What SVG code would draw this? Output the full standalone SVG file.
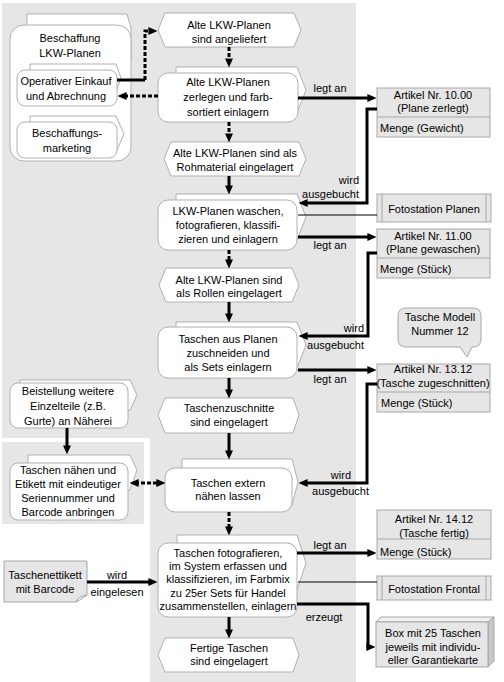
<svg xmlns="http://www.w3.org/2000/svg" width="504" height="682" viewBox="0 0 504 682">
<style>
text{font-family:"Liberation Sans",Arial,sans-serif;font-size:11px;fill:#000}
.c{text-anchor:middle}
.e{text-anchor:end}
.n{fill:#fff;stroke:#b0b0b0;stroke-width:1}
.g{fill:#e6e6e6;stroke:#a8a8a8;stroke-width:1}
.th{fill:none;stroke:#000;stroke-width:3}
.da{fill:none;stroke:#000;stroke-width:3;stroke-dasharray:4 2}
.tn{fill:none;stroke:#000;stroke-width:1}
</style>
<defs>
<marker id="ah" viewBox="0 0 9 9" markerWidth="9" markerHeight="9" refX="3.6" refY="4.5" orient="auto-start-reverse" markerUnits="userSpaceOnUse">
<path d="M0,0.5 L9,4.5 L0,8.5 z" fill="#000"/>
</marker>
</defs>
<!-- background areas -->
<path d="M2,3 H356 V682 H150 V438 H2 Z" fill="#e6e6e6"/>
<rect x="2" y="442" width="142" height="82" fill="#e6e6e6"/>

<!-- left nodes -->
<g id="beschaffung">
<polygon class="n" points="27,14 127,14 131,28 131,60 27,60"/>
<rect class="n" x="10" y="25" width="121" height="136" rx="14"/>
<text class="c" x="70" y="42">Beschaffung</text>
<text class="c" x="70" y="57">LKW-Planen</text>
</g>
<g id="operativ">
<polygon class="n" points="30,64 116,64 121,78 116,92 30,92"/>
<rect class="n" x="17" y="70" width="100" height="36" rx="8"/>
<text class="c" x="66" y="85">Operativer Einkauf</text>
<text class="c" x="66" y="100">und Abrechnung</text>
</g>
<g id="marketing">
<polygon class="n" points="30,116 116,116 124,134 116,152 30,152"/>
<rect class="n" x="17" y="122" width="100" height="36" rx="8"/>
<text class="c" x="67" y="137">Beschaffungs-</text>
<text class="c" x="67" y="152">marketing</text>
</g>
<g id="beistellung">
<polygon class="n" points="20,380 130,380 137,395 130,410 20,410"/>
<rect class="n" x="10" y="383" width="118" height="45" rx="8"/>
<text class="c" x="68" y="395">Beistellung weitere</text>
<text class="c" x="68" y="410">Einzelteile (z.B.</text>
<text class="c" x="68" y="425">Gurte) an Näherei</text>
</g>
<g id="naehen">
<polygon class="n" points="28,455 130,455 137,470 130,490 28,490"/>
<rect class="n" x="10" y="463" width="118" height="57" rx="8"/>
<text class="c" x="68" y="474">Taschen nähen und</text>
<text class="c" x="68" y="488">Etikett mit eindeutiger</text>
<text class="c" x="68" y="502">Seriennummer und</text>
<text class="c" x="68" y="516">Barcode anbringen</text>
</g>
<g id="etikett">
<path class="g" d="M4,561 H87 V595 Q80,596 76,602 H4 Z"/>
<path d="M76,602 Q77,597 87,595 Q81,600 76,602 Z" fill="#f4f4f4" stroke="#a8a8a8"/>
<text class="c" x="45" y="579">Taschenettikett</text>
<text class="c" x="45" y="593">mit Barcode</text>
</g>

<!-- main column -->
<g id="e1">
<polygon class="n" points="158,30 165,13 294,13 301,30 294,47 165,47"/>
<text class="c" x="229" y="29">Alte LKW-Planen</text>
<text class="c" x="229" y="43">sind angeliefert</text>
</g>
<g id="f1">
<polygon class="n" points="176,67 297,67 306,90 297,113 176,113"/>
<rect class="n" x="158" y="73" width="140" height="49" rx="10"/>
<text class="c" x="228" y="86">Alte LKW-Planen</text>
<text class="c" x="228" y="101">zerlegen und farb-</text>
<text class="c" x="228" y="116">sortiert einlagern</text>
</g>
<g id="e2">
<polygon class="n" points="164,159 171,142 299,142 306,159 299,176 171,176"/>
<text class="c" x="235" y="157">Alte LKW-Planen sind als</text>
<text class="c" x="235" y="171">Rohmaterial eingelagert</text>
</g>
<g id="f2">
<polygon class="n" points="176,194 297,194 306,217 297,240 176,240"/>
<rect class="n" x="158" y="200" width="139" height="50" rx="10"/>
<text class="c" x="228" y="215">LKW-Planen waschen,</text>
<text class="c" x="228" y="229">fotografieren, klassifi-</text>
<text class="c" x="228" y="243">zieren und einlagern</text>
</g>
<g id="e3">
<polygon class="n" points="159,285 166,268 292,268 299,285 292,302 166,302"/>
<text class="c" x="229" y="284">Alte LKW-Planen sind</text>
<text class="c" x="229" y="297">als Rollen eingelagert</text>
</g>
<g id="f3">
<polygon class="n" points="176,322 297,322 306,345 297,368 176,368"/>
<rect class="n" x="158" y="327" width="139" height="51" rx="10"/>
<text class="c" x="228" y="343">Taschen aus Planen</text>
<text class="c" x="228" y="357">zuschneiden und</text>
<text class="c" x="228" y="371">als Sets einlagern</text>
</g>
<g id="e4">
<polygon class="n" points="158,415 165,398 293,398 299,415 293,433 165,433"/>
<text class="c" x="229" y="412">Taschenzuschnitte</text>
<text class="c" x="229" y="426">sind eingelagert</text>
</g>
<g id="f4">
<polygon class="n" points="182,459 292,459 298,482 292,505 182,505"/>
<rect class="n" x="165" y="468" width="127" height="44" rx="10"/>
<text class="c" x="228" y="487">Taschen extern</text>
<text class="c" x="228" y="500">nähen lassen</text>
</g>
<g id="f5">
<polygon class="n" points="177,535 297,535 306,563 297,590 177,590"/>
<rect class="n" x="158" y="543" width="139" height="74" rx="10"/>
<text class="c" x="228" y="557">Taschen fotografieren,</text>
<text class="c" x="228" y="570">im System erfassen und</text>
<text class="c" x="228" y="583">klassifizieren, im Farbmix</text>
<text class="c" x="228" y="597">zu 25er Sets für Handel</text>
<text class="c" x="228" y="610">zusammenstellen, einlagern</text>
</g>
<g id="e5">
<polygon class="n" points="158,655 165,638 293,638 299,655 293,672 165,672"/>
<text class="c" x="229" y="652">Fertige Taschen</text>
<text class="c" x="229" y="665">sind eingelagert</text>
</g>

<!-- right column -->
<g id="art10">
<rect class="g" x="377" y="88" width="113" height="49"/>
<line x1="377" y1="117" x2="490" y2="117" stroke="#a8a8a8"/>
<text class="c" x="433" y="99">Artikel Nr. 10.00</text>
<text class="c" x="433" y="112">(Plane zerlegt)</text>
<text x="380" y="132">Menge (Gewicht)</text>
</g>
<g id="foto1">
<rect class="g" x="377" y="194" width="114" height="28"/>
<line x1="382" y1="194" x2="382" y2="222" stroke="#a8a8a8"/>
<line x1="486" y1="194" x2="486" y2="222" stroke="#a8a8a8"/>
<text class="c" x="434" y="213">Fotostation Planen</text>
</g>
<g id="art11">
<rect class="g" x="377" y="229" width="113" height="49"/>
<line x1="377" y1="258" x2="490" y2="258" stroke="#a8a8a8"/>
<text class="c" x="433" y="240">Artikel Nr. 11.00</text>
<text class="c" x="433" y="253">(Plane gewaschen)</text>
<text x="380" y="273">Menge (Stück)</text>
</g>
<g id="callout">
<path class="g" d="M406,308 H473 Q481,308 481,316 V339 Q481,347 473,347 H472 L467,357 L460,347 H406 Q398,347 398,339 V316 Q398,308 406,308 Z"/>
<text class="c" x="440" y="321">Tasche Modell</text>
<text class="c" x="440" y="335">Nummer 12</text>
</g>
<g id="art13">
<rect class="g" x="377" y="364" width="113" height="48"/>
<line x1="377" y1="392" x2="490" y2="392" stroke="#a8a8a8"/>
<text class="c" x="433" y="373">Artikel Nr. 13.12</text>
<text class="c" x="433" y="387">(Tasche zugeschnitten)</text>
<text x="381" y="407">Menge (Stück)</text>
</g>
<g id="art14">
<rect class="g" x="377" y="510" width="114" height="49"/>
<line x1="377" y1="539" x2="491" y2="539" stroke="#a8a8a8"/>
<text class="c" x="434" y="523">Artikel Nr. 14.12</text>
<text class="c" x="434" y="537">(Tasche fertig)</text>
<text x="380" y="556">Menge (Stück)</text>
</g>
<g id="foto2">
<rect class="g" x="377" y="576" width="114" height="24"/>
<line x1="382" y1="576" x2="382" y2="600" stroke="#a8a8a8"/>
<line x1="486" y1="576" x2="486" y2="600" stroke="#a8a8a8"/>
<text class="c" x="434" y="593">Fotostation Frontal</text>
</g>
<g id="box">
<polygon points="376,622 381,617 494,617 488,622" fill="#f0f0f0" stroke="#a8a8a8"/>
<polygon points="488,622 494,617 494,661 488,667" fill="#c8c8c8" stroke="#a8a8a8"/>
<rect class="g" x="376" y="622" width="112" height="45"/>
<text class="c" x="433" y="637">Box mit 25 Taschen</text>
<text class="c" x="433" y="651">jeweils mit individu-</text>
<text class="c" x="433" y="664">eller Garantiekarte</text>
</g>

<!-- connectors -->
<g id="connectors">
<path class="th" d="M117,80 H145"/>
<path class="da" d="M145,80 V31 H152" marker-end="url(#ah)"/>
<path class="da" d="M158,96 H123" marker-end="url(#ah)"/>
<path class="da" d="M229,47 V62" marker-end="url(#ah)"/>
<path class="da" d="M229,122 V137" marker-end="url(#ah)"/>
<path class="th" d="M229,176 V189" marker-end="url(#ah)"/>
<path class="da" d="M229,250 V263" marker-end="url(#ah)"/>
<path class="th" d="M229,302 V317" marker-end="url(#ah)"/>
<path class="th" d="M229,378 V393" marker-end="url(#ah)"/>
<path class="th" d="M229,433 V454" marker-end="url(#ah)"/>
<path class="da" d="M229,512 V530" marker-end="url(#ah)"/>
<path class="th" d="M229,617 V633" marker-end="url(#ah)"/>
<path class="th" d="M298,98 H371" marker-end="url(#ah)"/>
<path class="th" d="M377,109 H367 V203 H304" marker-end="url(#ah)"/>
<path class="tn" d="M298,215 H377"/>
<path class="th" d="M298,237 H371" marker-end="url(#ah)"/>
<path class="th" d="M377,253 H368 V336 H304" marker-end="url(#ah)"/>
<path class="th" d="M298,370 H371" marker-end="url(#ah)"/>
<path class="th" d="M377,384 H367 V483 H304" marker-end="url(#ah)"/>
<path class="da" d="M135,483 H160" marker-start="url(#ah)" marker-end="url(#ah)"/>
<path class="th" d="M67,428 V449" marker-end="url(#ah)"/>
<path class="th" d="M87,582 H152" marker-end="url(#ah)"/>
<path class="th" d="M297,553 H371" marker-end="url(#ah)"/>
<path class="tn" d="M298,582 H377"/>
<path class="th" d="M297,604 H368 V647 H370" marker-end="url(#ah)"/>
<text class="c" x="330" y="92">legt an</text>
<text class="e" x="359" y="184">wird</text>
<text class="e" x="359" y="198">ausgebucht</text>
<text class="c" x="330" y="249">legt an</text>
<text class="e" x="364" y="332">wird</text>
<text class="e" x="364" y="349">ausgebucht</text>
<text class="c" x="330" y="383">legt an</text>
<text class="e" x="351" y="479">wird</text>
<text class="e" x="369" y="495">ausgebucht</text>
<text class="c" x="117" y="579">wird</text>
<text class="c" x="117" y="596">eingelesen</text>
<text class="c" x="330" y="549">legt an</text>
<text class="c" x="324" y="621">erzeugt</text>
</g>
</svg>
